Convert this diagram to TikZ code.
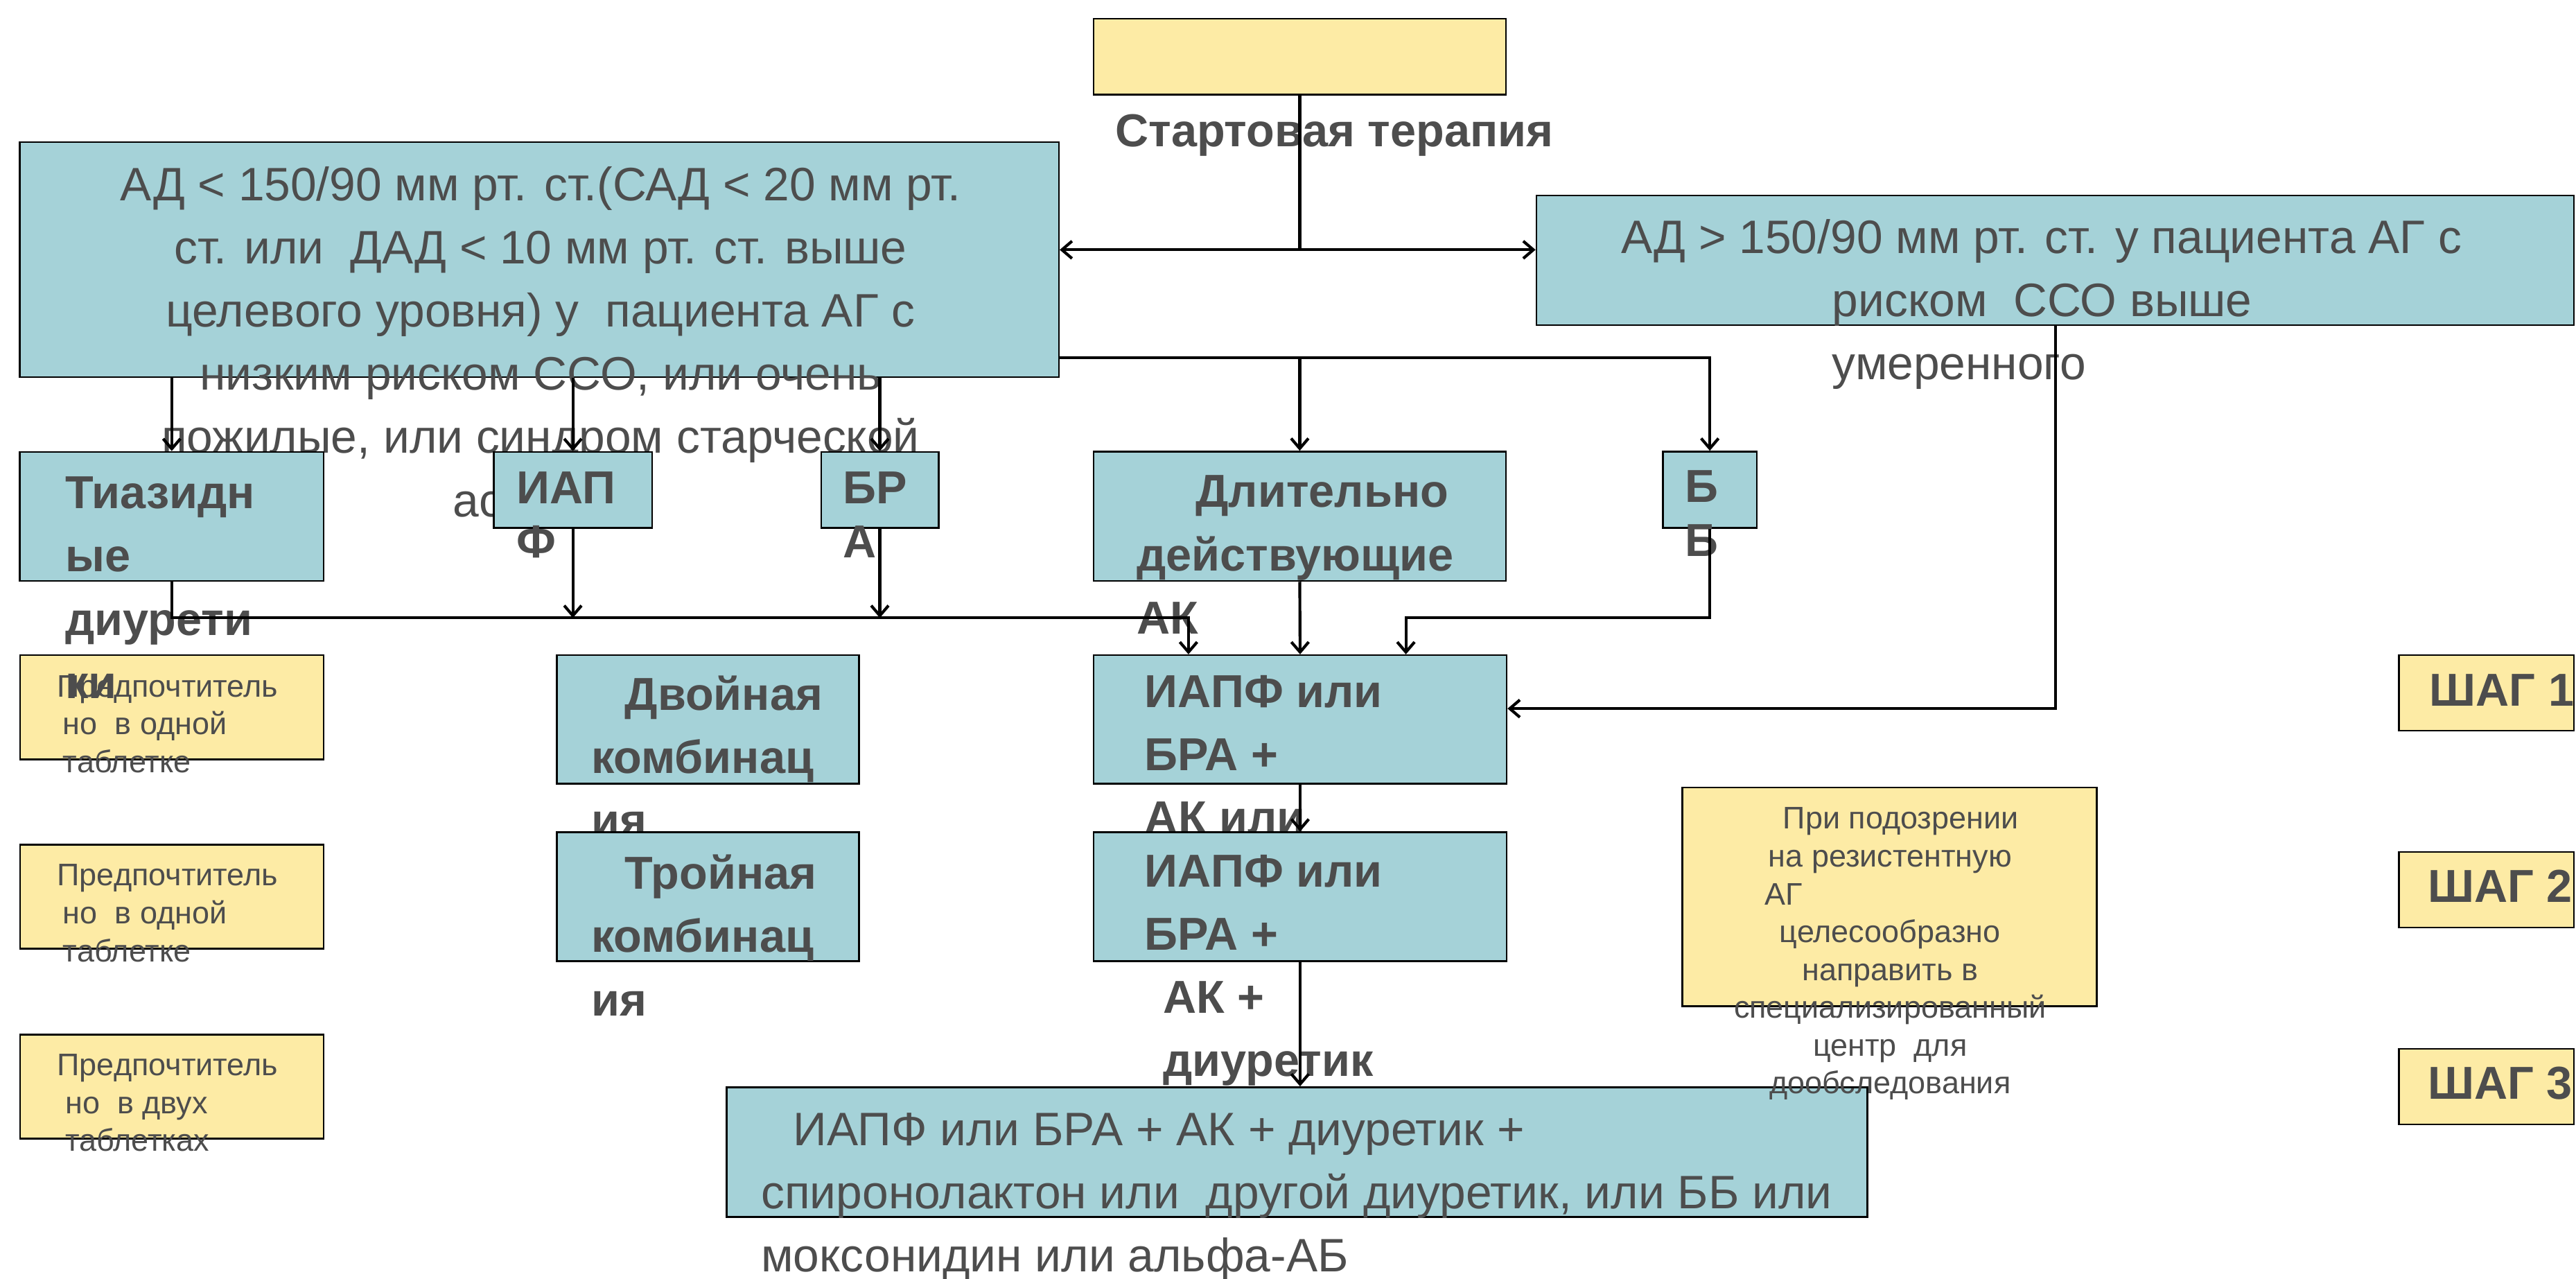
\documentclass[tikz,border=0pt]{standalone}
\usepackage{fontspec}
\setmainfont{Liberation Sans}
\usepackage{xcolor}
\usepackage{tikz}
\usetikzlibrary{arrows.meta,positioning,fit,calc}

\definecolor{boxblue}{HTML}{A5D2D8}
\definecolor{boxyel}{HTML}{FDEBA5}
\definecolor{txtgray}{HTML}{4D4D4D}

\tikzset{
  blubox/.style={draw, fill=boxblue, line width=0.6pt, inner sep=0pt},
  yelbox/.style={draw, fill=boxyel, line width=0.6pt, inner sep=0pt},
  bigtxt/.style={inner sep=0pt, text=txtgray, font=\fontsize{16.25}{21.9}\selectfont},
  boldtxt/.style={inner sep=0pt, text=txtgray, font=\fontsize{16}{21.9}\selectfont\bfseries},
  tighttxt/.style={inner sep=0pt, text=txtgray, font=\fontsize{16}{18.8}\selectfont\bfseries},
  smalltxt/.style={inner sep=0pt, text=txtgray, font=\fontsize{10.8}{13.1}\selectfont},
  link/.style={line width=1pt},
  arr/.style={link, -{Straight Barb[length=3.5pt,width=6pt]}},
  dblarr/.style={link, {Straight Barb[length=3.5pt,width=6pt]}-{Straight Barb[length=3.5pt,width=6pt]}}
}

\begin{document}
\begin{tikzpicture}[x=0.02cm, y=-0.02cm]
\useasboundingbox (0,0) rectangle (1568,778);

% multi-line texts are placed by the baseline of their last line
\node[yelbox, fit={(665.6,11.4) (916.7,57.6)}] (start) {};
\node[boldtxt, anchor=base west] (starttxt) at (678.5,89.1) {Стартовая терапия};

\node[blubox, fit={(12.1,86.4) (644.5,229.5)}] (big) {};
\node[bigtxt, align=center, anchor=base] (bigtxt) at (329,314.3)
  {АД < 150/90 мм рт. ст.(САД < 20 мм рт.\\ст. или~ ДАД < 10 мм рт. ст. выше\\целевого уровня) у~ пациента АГ с\\низким риском ССО, или очень\\пожилые, или синдром старческой\\астении};

\node[blubox, fit={(935.2,118.9) (1566.8,197.8)}] (risk) {};
\node[bigtxt, align=left, anchor=base west] (risktxt) at (986.5,231)
  {АД > 150/90 мм рт. ст. у пациента АГ с\\\hspace*{2.57cm}риском~ ССО выше\\\hspace*{2.57cm}умеренного};

% left column
\node[yelbox, fit={(12.2,398.7) (197,462.1)}] (pref1) {};
\node[smalltxt, align=left, anchor=base west] (pref1txt) at (34.5,470.1)
  {Предпочтитель\\\hspace*{0.07cm}но~ в одной\\\hspace*{0.07cm}таблетке};
\node[yelbox, fit={(12.2,514) (197,577.3)}] (pref2) {};
\node[smalltxt, align=left, anchor=base west] (pref2txt) at (34.5,585.1)
  {Предпочтитель\\\hspace*{0.07cm}но~ в одной\\\hspace*{0.07cm}таблетке};
\node[yelbox, fit={(12.2,629.5) (197,692.9)}] (pref3) {};
\node[smalltxt, align=left, anchor=base west] (pref3txt) at (34.5,700.6)
  {Предпочтитель\\\hspace*{0.1cm}но~ в двух\\\hspace*{0.1cm}таблетках};

% first row
\node[blubox, fit={(12.1,275) (197,353.5)}] (tiaz) {};
\node[boldtxt, align=left, anchor=base west] (tiaztxt) at (39.5,424.9) {Тиазидн\\ые\\диурети\\ки};
\node[blubox, fit={(300.5,275) (396.9,321.3)}] (iapf) {};
\node[tighttxt, align=left, anchor=base west] (iapftxt) at (314,339.3) {ИАП\\Ф};
\node[blubox, fit={(499.8,275) (571.3,321.3)}] (bra) {};
\node[tighttxt, align=left, anchor=base west] (bratxt) at (513,339.3) {БР\\А};
\node[blubox, fit={(665.6,274.8) (916.7,353.5)}] (dlit) {};
\node[boldtxt, align=left, anchor=base west] (dlittxt) at (691.5,385.7)
  {\hspace*{0.72cm}Длительно\\действующие\\АК};
\node[blubox, fit={(1012.1,274.8) (1069.4,321.3)}] (bb) {};
\node[tighttxt, align=left, anchor=base west] (bbtxt) at (1025.5,338.5) {Б\\Б};

% combinations
\node[blubox, fit={(338.9,398.7) (522.8,476.8)}] (dbl) {};
\node[boldtxt, align=left, anchor=base west] (dbltxt) at (359.5,509.1) {\hspace*{0.41cm}Двойная\\комбинац\\ия};
\node[blubox, fit={(338.9,506.5) (522.8,584.8)}] (trp) {};
\node[boldtxt, align=left, anchor=base west] (trptxt) at (359.5,618) {\hspace*{0.41cm}Тройная\\комбинац\\ия};
\node[blubox, fit={(665.6,398.7) (917.1,476.8)}] (ak1) {};
\node[boldtxt, align=left, anchor=base west] (ak1txt) at (696.5,507.3) {ИАПФ или\\БРА +\\АК или};
\node[blubox, fit={(665.6,506.5) (917.1,584.8)}] (ak2) {};
\node[boldtxt, align=left, anchor=base west] (ak2txt) at (696.5,655)
  {ИАПФ или\\БРА +\\\hspace*{0.22cm}АК +\\\hspace*{0.22cm}диуретик};

\node[blubox, fit={(442.4,661.6) (1136.6,740.5)}] (last) {};
\node[bigtxt, align=left, anchor=base west] (lasttxt) at (463,773.9)
  {\hspace*{0.39cm}ИАПФ или БРА + АК + диуретик +\\спиронолактон или~ другой диуретик, или ББ или\\моксонидин или альфа-АБ};

\node[yelbox, fit={(1024,479.2) (1276.3,612.4)}] (resist) {};
\node[smalltxt, align=center, anchor=base] (resisttxt) at (1150.5,665.6)
  {\hspace*{0.26cm}При подозрении\\на резистентную\\\makebox[3.05cm][l]{АГ}\\целесообразно\\направить в\\специализированный\\центр~ для\\дообследования};

% steps
\node[yelbox, fit={(1460.1,398.7) (1566.8,444.7)}] (step1) {};
\node[boldtxt, anchor=base west] (step1txt) at (1478.5,429.5) {ШАГ 1};
\node[yelbox, fit={(1460.1,518.5) (1566.8,564.5)}] (step2) {};
\node[boldtxt, anchor=base west] (step2txt) at (1477.5,549) {ШАГ 2};
\node[yelbox, fit={(1460.1,638.3) (1566.8,684.3)}] (step3) {};
\node[boldtxt, anchor=base west] (step3txt) at (1477.5,668.8) {ШАГ 3};

% connectors
\coordinate (fork) at (start.south |- 0,152);
\coordinate (split) at (big.east |- 0,217.6);
\coordinate (row) at (0,376);
\draw[link] (start.south) -- (fork);
\draw[dblarr] (big.east |- fork) -- (risk.west |- fork);
\draw[arr] (tiaz.north |- big.south) -- (tiaz.north);
\draw[arr] (iapf.north |- big.south) -- (iapf.north);
\draw[arr] (bra.north |- big.south) -- (bra.north);
\draw[arr] (split) -| (dlit.north);
\draw[arr] (split) -| (bb.north);
\draw[arr] (tiaz.south) -- (tiaz.south |- row) -| ($(ak1.north west)!0.231!(ak1.north east)$);
\draw[arr] (iapf.south) -- (iapf.south |- row);
\draw[arr] (bra.south) -- (bra.south |- row);
\draw[arr] (dlit.south) -- (ak1.north);
\draw[arr] (bb.south) -- (bb.south |- row) -| ($(ak1.north west)!0.755!(ak1.north east)$);
\draw[arr] (risk.south) |- ($(ak1.north east)!0.417!(ak1.south east)$);
\draw[arr] (ak1.south) -- (ak2.north);
\draw[arr] (ak2.south) -- (ak2.south |- last.north);
\end{tikzpicture}
\end{document}
